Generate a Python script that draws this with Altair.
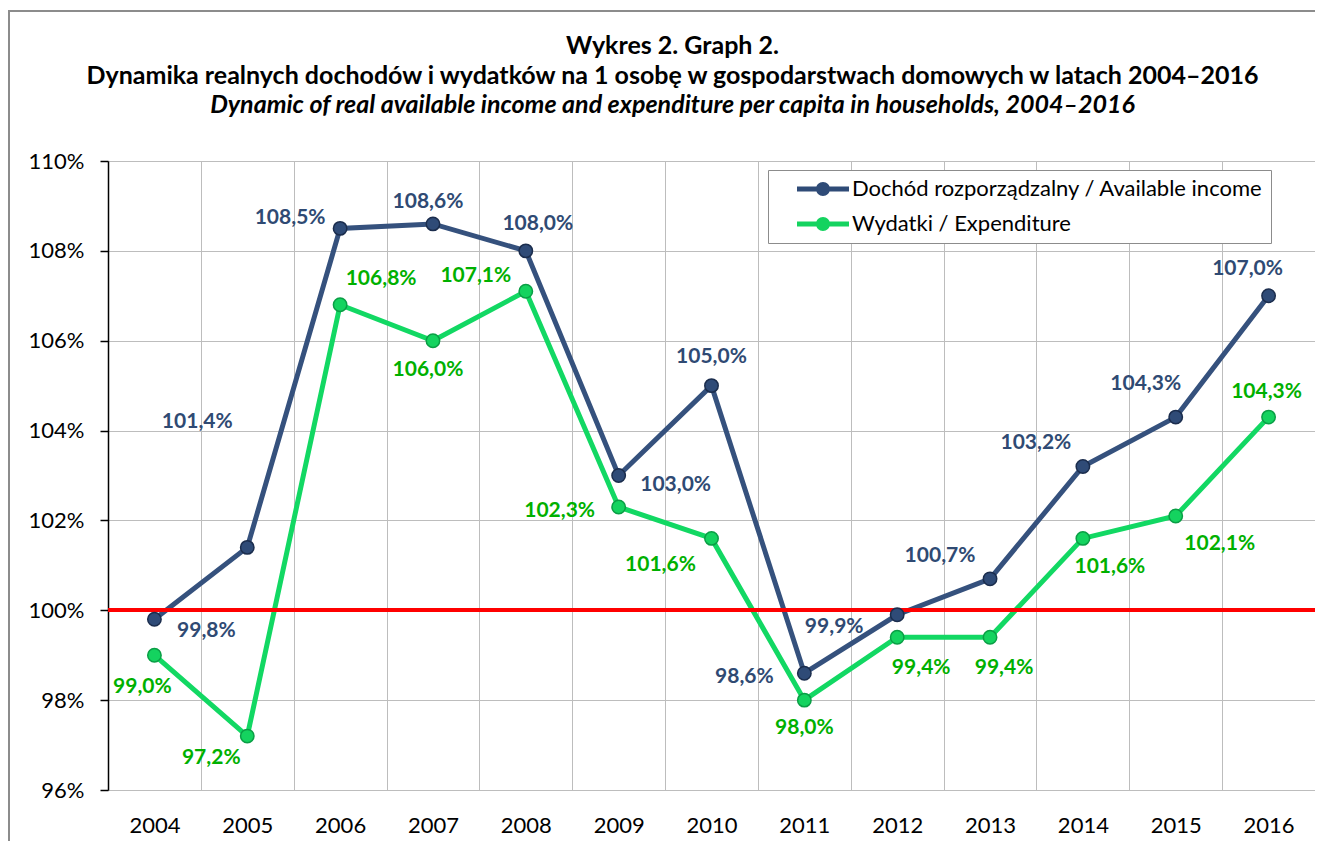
import altair as alt
import pandas as pd

# ---- data ----
years = [2004, 2005, 2006, 2007, 2008, 2009, 2010, 2011, 2012, 2013, 2014, 2015, 2016]
income = [99.8, 101.4, 108.5, 108.6, 108.0, 103.0, 105.0, 98.6, 99.9, 100.7, 103.2, 104.3, 107.0]
expenditure = [99.0, 97.2, 106.8, 106.0, 107.1, 102.3, 101.6, 98.0, 99.4, 99.4, 101.6, 102.1, 104.3]
series_names = ["Dochód rozporządzalny / Available income", "Wydatki / Expenditure"]

# label placement (pixel offsets of each value label from its point)
income_label_dx = [52, -50, -50, -5, 12, 57, 0, -60, -63, -50, -47, -30, -21]
income_label_dy = [12, -125, -10, -22, -27, 9, -29, 4, 12, -23, -24, -33, -27]
exp_label_dx = [-12, -36, 41, -5, -50, -59, -51, 0, 24, 14, 27, 44, -2]
exp_label_dy = [32, 22, -26, 29, -15, 4, 27, 28, 31, 31, 29, 28, -25]

# ---- layout / style ----
W, H = 1207, 629
X_MIN, X_MAX = 2003.5, 2016.5
Y_MIN, Y_MAX = 96, 110
PX_PER_YEAR = W / (X_MAX - X_MIN)
PX_PER_PCT = H / (Y_MAX - Y_MIN)

BLUE_LINE = "#35517D"
BLUE_FILL = "#2F4B77"
BLUE_STROKE = "#1B2D4D"
BLUE_TEXT = "#2F4A73"
GREEN_LINE = "#12D863"
GREEN_FILL = "#14D35F"
GREEN_STROKE = "#0A9E45"
GREEN_TEXT = "#00B000"
FONT = "Lato"

rows = []
for i, y in enumerate(years):
    rows.append({"year": y, "value": income[i], "series": series_names[0],
                 "dx": income_label_dx[i], "dy": income_label_dy[i]})
for i, y in enumerate(years):
    rows.append({"year": y, "value": expenditure[i], "series": series_names[1],
                 "dx": exp_label_dx[i], "dy": exp_label_dy[i]})
df = pd.DataFrame(rows)

x_scale = alt.Scale(domain=[X_MIN, X_MAX], nice=False, zero=False)
y_scale = alt.Scale(domain=[Y_MIN, Y_MAX], nice=False, zero=False)
color_scale = alt.Scale(domain=series_names, range=[BLUE_LINE, GREEN_LINE])
fill_scale = alt.Scale(domain=series_names, range=[BLUE_FILL, GREEN_FILL])
stroke_scale = alt.Scale(domain=series_names, range=[BLUE_STROKE, GREEN_STROKE])

base = alt.Chart(df)

grid_axis = alt.Axis(orient="bottom", values=[X_MIN + k for k in range(14)], grid=True,
                     gridColor="#BDBDBD", gridWidth=1, labels=False, ticks=False,
                     domain=False, title=None)
label_axis = alt.Axis(orient="bottom", values=years, format="d", grid=False, ticks=False,
                      tickSize=0, domain=False, title=None, labelFont=FONT,
                      labelFontSize=22, labelColor="black", labelPadding=25)
y_axis = alt.Axis(values=list(range(96, 111, 2)), labelExpr="datum.value + '%'", title=None,
                  grid=True, gridColor="#BDBDBD", gridWidth=1, domainColor="black",
                  domainWidth=1.5, tickColor="black", tickWidth=1.5, tickSize=8,
                  labelFont=FONT, labelFontSize=22, labelColor="black", labelPadding=16)

frame = alt.Chart(pd.DataFrame({"f": [0]})).mark_rect(
    filled=False, stroke="#8C8C8C", strokeWidth=2
).encode(x=alt.value(-99), y=alt.value(-150), x2=alt.value(1300), y2=alt.value(800))

lines = base.mark_line(strokeWidth=5).encode(
    x=alt.X("year:Q", scale=x_scale, axis=grid_axis),
    y=alt.Y("value:Q", scale=y_scale, axis=y_axis),
    color=alt.Color("series:N", scale=color_scale, legend=None),
    detail="series:N",
)

ref = base.mark_rule(color="#FF0000", strokeWidth=3).encode(
    y=alt.datum(100, scale=y_scale, axis=y_axis)
)

symbol_path = ("M-2.6,-0.25L2.6,-0.25L2.6,0.25L-2.6,0.25Z "
               "M0.7,0A0.7,0.7,0,1,1,-0.7,0A0.7,0.7,0,1,1,0.7,0Z")

points = base.mark_point(filled=True, size=180, strokeWidth=1.5, opacity=1).encode(
    x=alt.X("year:Q", scale=x_scale, axis=label_axis),
    y=alt.Y("value:Q", scale=y_scale, axis=y_axis),
    fill=alt.Fill("series:N", scale=fill_scale, legend=alt.Legend(
        title=None, orient="none", legendX=660, legendY=9,
        symbolType=symbol_path, symbolSize=400, symbolStrokeWidth=0,
        symbolOffset=36, labelOffset=18, rowPadding=13, padding=8,
        labelFont=FONT, labelFontSize=22, labelColor="black", labelLimit=600,
        fillColor="white", strokeColor="#8C8C8C",
    )),
    stroke=alt.Stroke("series:N", scale=stroke_scale, legend=None),
)

labels_base = base.transform_calculate(
    lx=f"datum.year + datum.dx / {PX_PER_YEAR}",
    ly=f"datum.value - datum.dy / {PX_PER_PCT}",
    label="replace(format(datum.value, '.1f'), '.', ',') + '%'",
)

def label_layer(name, color):
    return labels_base.transform_filter(alt.datum.series == name).mark_text(
        font=FONT, fontSize=21, fontWeight="bold", color=color,
        align="center", baseline="middle"
    ).encode(
        x=alt.X("lx:Q", scale=x_scale, axis=None),
        y=alt.Y("ly:Q", scale=y_scale, axis=y_axis),
        text="label:N",
    )

chart = alt.layer(
    frame, lines, ref, points,
    label_layer(series_names[0], BLUE_TEXT),
    label_layer(series_names[1], GREEN_TEXT),
).resolve_axis(x="independent").resolve_scale(
    fill="independent", stroke="independent"
).properties(
    width=W, height=H,
    autosize=alt.AutoSizeParams(type="none"),
    padding={"left": 100, "top": 153, "right": 0, "bottom": 51},
    title=alt.TitleParams(
        text=["Wykres 2. Graph 2.",
              "Dynamika realnych dochodów i wydatków na 1 osobę w gospodarstwach domowych w latach 2004–2016"],
        subtitle="Dynamic of real available income and expenditure per capita in households, 2004–2016",
        font=FONT, fontSize=25, fontWeight="bold", color="black",
        subtitleFont=FONT, subtitleFontSize=25, subtitleFontStyle="italic",
        subtitleFontWeight="bold", subtitleColor="black",
        anchor="middle", dx=-39, dy=136, offset=28, lineHeight=30, subtitleLineHeight=30,
        subtitlePadding=4,
    ),
).configure_view(stroke="#A6A6A6", strokeWidth=1.5).configure(background="white")

chart.save("out.html", embed_options={"renderer": "svg", "actions": False})
